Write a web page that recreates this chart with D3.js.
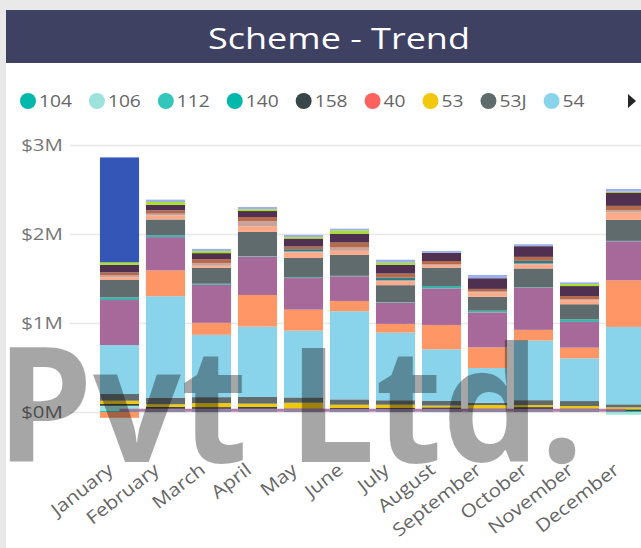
<!DOCTYPE html>
<html>
<head>
<meta charset="utf-8">
<script src="https://cdn.jsdelivr.net/npm/d3@7"></script>
<style>
  html, body { margin: 0; padding: 0; background: #e9e9e9; }
  svg { display: block; font-family: "Open Sans", "Noto Sans", sans-serif; }
</style>
</head>
<body>
<div id="chart"></div>
<script>
// Les mois (axe x)
const months = ["January", "February", "March", "April", "May", "June", "July",
  "August", "September", "October", "November", "December"];

// Codes des séries, du bas vers le haut de la pile (les 9 premières sont dans la légende)
const schemes = ["104", "106", "112", "140", "158", "40", "53", "53J", "54",
  "55", "56", "57", "58", "59", "60", "61", "62", "63", "64", "65", "66"];
const schemeColors = ["#01B8AA", "#9CE3DB", "#33C6BB", "#01B8AA", "#374649", "#FD625E", "#F2C80F", "#5F6B6D", "#8AD4EB",
  "#FE9666", "#A66999", "#3AB3AA", "#5F6B6D", "#FDAA88", "#C9A29A", "#2E7D86", "#B56B4B", "#4F3050", "#A5E31B", "#3457B7", "#9DB0EA"];

// Valeurs en $M, une liste par série (Jan -> Dec)
const s104 = [0.01, 0.01, 0.01, 0.01, 0.01, 0.01, 0.01, 0.01, 0.01, 0.01, 0.01, 0.01];
const s106 = [0.06, 0.025, 0.025, 0.025, 0.02, 0.02, 0.02, 0.02, 0.02, 0.02, 0.02, -0.03];
const s112 = [0, 0, 0, 0, 0, 0, 0, 0, 0, 0, 0, 0];
const s140 = [0, 0, 0, 0, 0, 0, 0, 0, 0, 0, 0, 0];
const s158 = [0.02, 0.022, 0.02, 0.022, 0.01, 0.015, 0.015, 0.022, 0.01, 0.025, 0.01, 0.02];
const s40 = [0, 0, 0, 0, 0, 0, 0, 0, 0, 0, 0, 0];
const s53 = [0.037, 0.03, 0.045, 0.037, 0.064, 0.037, 0.037, 0.02, 0.038, 0.022, 0.027, 0.022];
const s53J = [0.075, 0.074, 0.067, 0.075, 0.06, 0.06, 0.05, 0.052, 0.026, 0.056, 0.056, 0.034];
const s54 = [0.55, 1.14, 0.7, 0.79, 0.75, 0.99, 0.76, 0.58, 0.39, 0.67, 0.48, 0.87];
const s55 = [-0.065, 0.29, 0.135, 0.356, 0.236, 0.116, 0.098, 0.274, 0.232, 0.12, 0.12, 0.524];
const s56 = [0.506, 0.374, 0.427, 0.43, 0.355, 0.277, 0.24, 0.411, 0.393, 0.472, 0.289, 0.438];
const s57 = [0.03, 0.022, 0.012, 0.005, 0.008, 0.005, 0.005, 0.027, 0.019, 0.005, 0.03, 0.005];
const s58 = [0.195, 0.176, 0.18, 0.273, 0.218, 0.236, 0.19, 0.206, 0.157, 0.213, 0.169, 0.236];
const s59 = [0.03, 0.045, 0.022, 0.064, 0.063, 0.045, 0.045, 0.03, 0.048, 0.045, 0.045, 0.082];
const s60 = [0.022, 0.02, 0.03, 0.056, 0.01, 0.037, 0.01, 0.01, 0.01, 0.01, 0.01, 0.025];
const s61 = [0, 0, 0, 0, 0.025, 0, 0.03, 0, 0, 0.03, 0, 0];
const s62 = [0.034, 0.037, 0.045, 0.048, 0.03, 0.056, 0.045, 0.034, 0.03, 0.045, 0.037, 0.05];
const s63 = [0.086, 0.064, 0.067, 0.067, 0.09, 0.1, 0.1, 0.093, 0.12, 0.12, 0.112, 0.15];
const s64 = [0.026, 0.03, 0.022, 0.019, 0.016, 0.034, 0.022, 0, 0, 0, 0.022, 0.01];
const s65 = [1.18, 0, 0, 0, 0, 0, 0, 0, 0, 0, 0, 0];
const s66 = [0.005, 0.027, 0.026, 0.026, 0.026, 0.022, 0.034, 0.02, 0.037, 0.022, 0.02, 0.03];
const seriesValues = [s104, s106, s112, s140, s158, s40, s53, s53J, s54,
  s55, s56, s57, s58, s59, s60, s61, s62, s63, s64, s65, s66];

// La ligne violette (presque à zéro)
const lineValues = [0.02, 0.02, 0.02, 0.02, 0.02, 0.02, 0.02, 0.02, 0.02, 0.02, 0.02, 0.02];

// Graduations de l'axe y
const yTicks = [0, 1, 2, 3];

const legendCount = 9;
const width = 641, height = 548;
const textStretch = 1.2; // le visuel d'origine est étiré en largeur

// Table pour d3.stack
const table = months.map((m, i) => {
  const row = { month: m };
  schemes.forEach((s, j) => { row[s] = seriesValues[j][i]; });
  return row;
});

const svg = d3.select("#chart").append("svg")
  .attr("width", width)
  .attr("height", height);

// Fond + cadre blanc
svg.append("rect").attr("width", width).attr("height", height).attr("fill", "#e9e9e9");
svg.append("rect").attr("x", 6).attr("y", 10).attr("width", width - 6).attr("height", height - 10).attr("fill", "#ffffff");

// Bandeau titre
svg.append("rect").attr("x", 6).attr("y", 10).attr("width", width - 6).attr("height", 53).attr("fill", "#3f4163");
svg.append("text")
  .attr("transform", `translate(339,49) scale(${textStretch},1)`)
  .attr("text-anchor", "middle")
  .attr("fill", "#ffffff")
  .attr("font-size", 30)
  .text("Scheme - Trend");

// Echelles
const x = d3.scaleBand()
  .domain(months)
  .range([96.5, 648.5])
  .paddingInner(0.15)
  .paddingOuter(0.075);

const y = d3.scaleLinear().domain([0, 3]).range([412, 145]);

// Axe y + quadrillage
const yAxis = svg.append("g")
  .attr("transform", "translate(70,0)")
  .call(d3.axisLeft(y).tickValues(yTicks).tickSize(-(width - 70)).tickPadding(6).tickFormat(d => `$${d}M`));
yAxis.select(".domain").remove();
yAxis.selectAll(".tick line").attr("stroke", "#e8e8e8").attr("stroke-width", 1.5);
yAxis.selectAll(".tick text")
  .attr("transform", `scale(${textStretch},1)`)
  .attr("fill", "#777")
  .attr("font-size", 17)
  .attr("font-family", "Open Sans, sans-serif");

// Barres empilées
const stack = d3.stack().keys(schemes).offset(d3.stackOffsetDiverging);
const layers = stack(table);

svg.append("g")
  .selectAll("g")
  .data(layers)
  .join("g")
  .attr("fill", (d, i) => schemeColors[i])
  .selectAll("rect")
  .data(d => d)
  .join("rect")
  .attr("x", d => x(d.data.month))
  .attr("y", d => y(Math.max(d[0], d[1])))
  .attr("height", d => Math.abs(y(d[0]) - y(d[1])))
  .attr("width", x.bandwidth());

// Ligne violette
const line = d3.line()
  .x((d, i) => x(months[i]) + x.bandwidth() / 2)
  .y(d => y(d));
svg.append("path")
  .datum(lineValues)
  .attr("d", line)
  .attr("fill", "none")
  .attr("stroke", "#A66999")
  .attr("stroke-opacity", 0.85)
  .attr("stroke-width", 3);

// Axe x
const xAxis = svg.append("g")
  .attr("transform", `translate(0,${y(0)})`)
  .call(d3.axisBottom(x).tickSize(0).tickPadding(0));
xAxis.select(".domain").remove();
xAxis.selectAll(".tick text")
  .attr("y", 0)
  .attr("dy", 0)
  .attr("text-anchor", "end")
  .attr("transform", "translate(-5,60) rotate(-38) scale(1.15,1)")
  .attr("fill", "#666")
  .attr("font-size", 18)
  .attr("font-family", "Open Sans, sans-serif");

// Légende
const legend = svg.append("g").attr("transform", "translate(0,101)");
let lx = 28;
schemes.slice(0, legendCount).forEach((name, i) => {
  const g = legend.append("g").attr("transform", `translate(${lx},0)`);
  g.append("circle").attr("r", 8).attr("fill", schemeColors[i]);
  const t = g.append("text")
    .attr("transform", `translate(11,6) scale(${textStretch},1)`)
    .attr("fill", "#666")
    .attr("font-size", 16)
    .text(name);
  const w = t.node().getComputedTextLength() * textStretch;
  lx += 11 + w + 17 + 8;
});
// Flèche de la légende
legend.append("path").attr("d", "M628,-7 L636,0 L628,7 Z").attr("fill", "#252525");

// Filigrane
svg.append("text")
  .attr("x", -4)
  .attr("y", 462)
  .attr("font-size", 160)
  .attr("font-weight", "bold")
  .attr("textLength", 588)
  .attr("lengthAdjust", "spacingAndGlyphs")
  .attr("fill", "#000")
  .attr("fill-opacity", 0.35)
  .text("Pvt Ltd.");
</script>
</body>
</html>
